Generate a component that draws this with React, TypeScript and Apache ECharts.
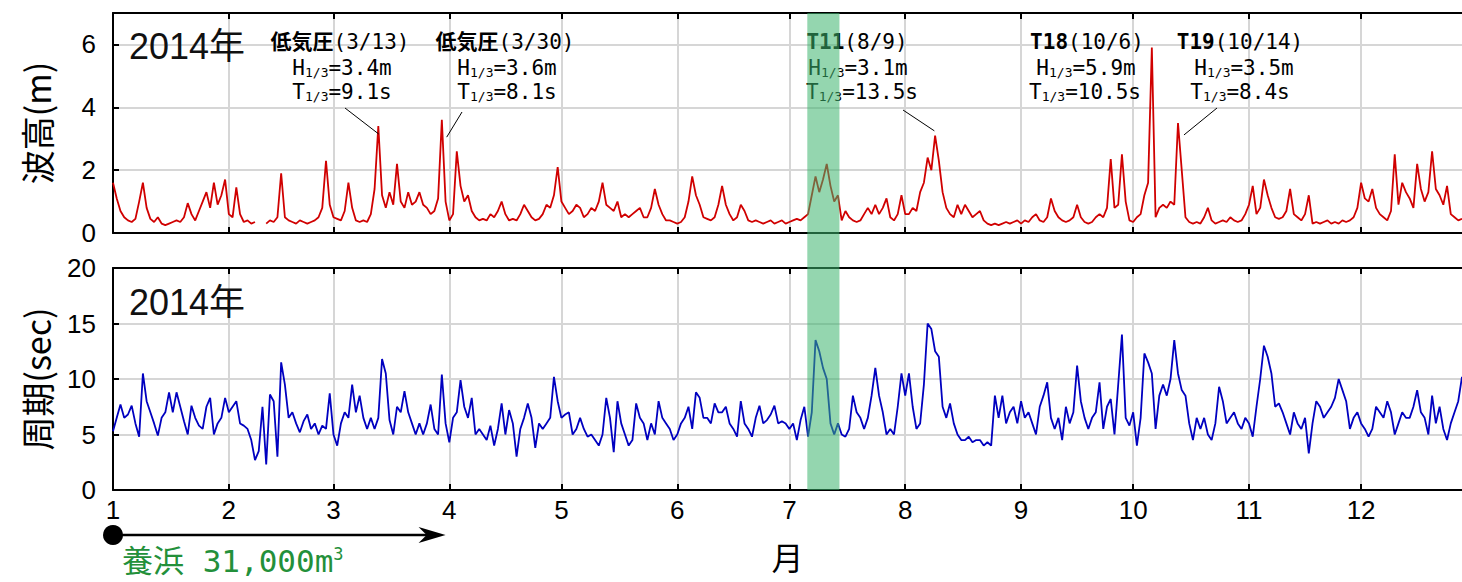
import React, { useEffect, useRef } from 'react';
import * as echarts from 'echarts';

// ---------- data ----------
// day-of-year index (0 = Jan 1, 2014) for the first day of each month
const monthStarts = [0, 31, 59, 90, 120, 151, 181, 212, 243, 273, 304, 334];
const monthLabels = ['1', '2', '3', '4', '5', '6', '7', '8', '9', '10', '11', '12'];

// significant wave height H1/3 (m), one value per day from Jan 1
const waveHeight: (number | null)[] = [
  1.6, 1.1, 0.7, 0.5, 0.4, 0.35, 0.45, 1.0, 1.6, 0.8,
  0.45, 0.35, 0.5, 0.3, 0.25, 0.3, 0.35, 0.4, 0.35, 0.5,
  0.95, 0.6, 0.4, 0.7, 1.0, 1.3, 0.8, 1.6, 0.9, 1.2,
  1.7, 0.6, 0.5, 1.45, 0.6, 0.35, 0.4, 0.3, 0.35, null,
  null, 0.3, 0.4, 0.35, 0.5, 1.9, 0.5, 0.4, 0.35, 0.3,
  0.4, 0.35, 0.3, 0.35, 0.4, 0.5, 0.8, 2.3, 0.9, 0.5,
  0.45, 0.4, 0.7, 1.6, 0.8, 0.4, 0.35, 0.4, 0.35, 0.6,
  1.4, 3.4, 1.2, 0.8, 1.3, 0.9, 2.2, 1.0, 0.8, 1.3,
  0.9, 1.0, 1.3, 0.9, 0.8, 0.6, 0.7, 1.1, 3.6, 1.0,
  0.4, 0.6, 2.6, 1.5, 1.0, 1.2, 0.7, 0.5, 0.4, 0.45,
  0.4, 0.6, 0.5, 0.7, 1.0, 0.6, 0.4, 0.45, 0.4, 0.6,
  0.9, 0.7, 0.5, 0.4, 0.45, 0.6, 0.9, 0.8, 1.2, 2.1,
  1.0, 0.8, 0.6, 0.7, 0.9, 0.8, 0.5, 0.6, 0.8, 0.7,
  1.0, 1.6, 0.9, 0.8, 0.7, 1.0, 0.5, 0.6, 0.5, 0.6,
  0.7, 0.8, 0.5, 0.5, 0.8, 1.4, 0.9, 0.6, 0.4, 0.4,
  0.35, 0.3, 0.35, 0.5, 1.0, 1.8, 1.2, 0.9, 0.5, 0.45,
  0.4, 0.5, 0.9, 1.5, 0.9, 0.6, 0.4, 0.5, 0.9, 0.7,
  0.4, 0.35, 0.4, 0.35, 0.3, 0.35, 0.4, 0.3, 0.35, 0.4,
  0.3, 0.35, 0.4, 0.45, 0.4, 0.5, 0.6, 1.2, 1.8, 1.3,
  1.7, 2.2, 1.5, 1.0, 1.2, 0.4, 0.7, 0.5, 0.4, 0.35,
  0.4, 0.6, 0.8, 0.6, 0.9, 0.6, 0.8, 1.1, 0.5, 0.4,
  0.6, 1.2, 0.6, 0.6, 0.8, 0.7, 1.3, 1.6, 2.4, 2.0,
  3.1, 2.3, 1.3, 0.8, 0.6, 0.5, 0.9, 0.6, 0.9, 0.7,
  0.5, 0.6, 0.7, 0.4, 0.3, 0.25, 0.3, 0.25, 0.3, 0.35,
  0.3, 0.35, 0.4, 0.3, 0.4, 0.35, 0.5, 0.6, 0.4, 0.35,
  0.5, 1.1, 0.7, 0.5, 0.4, 0.35, 0.4, 0.5, 0.9, 0.5,
  0.35, 0.3, 0.35, 0.5, 0.6, 0.5, 0.8, 2.35, 0.8, 0.9,
  2.5, 1.0, 0.4, 0.35, 0.5, 0.6, 1.2, 1.6, 5.9, 0.5,
  0.8, 0.9, 0.8, 1.0, 0.9, 3.5, 2.0, 0.5, 0.35, 0.3,
  0.35, 0.3, 0.5, 0.8, 0.4, 0.3, 0.35, 0.4, 0.35, 0.5,
  0.4, 0.35, 0.4, 0.6, 0.9, 1.5, 0.6, 0.8, 1.7, 1.2,
  0.8, 0.5, 0.45, 0.5, 0.7, 1.4, 0.6, 0.5, 0.4, 0.6,
  1.2, 0.3, 0.35, 0.3, 0.35, 0.4, 0.3, 0.35, 0.3, 0.4,
  0.35, 0.4, 0.5, 0.8, 1.6, 1.1, 1.0, 1.4, 0.8, 0.6,
  0.5, 0.4, 0.7, 2.5, 0.9, 1.6, 1.3, 1.1, 0.8, 2.2,
  1.4, 1.0, 1.3, 2.6, 1.4, 1.2, 0.9, 1.5, 0.6, 0.5,
  0.4, 0.45,
];

// significant wave period T1/3 (sec), one value per day from Jan 1
const wavePeriod: number[] = [
  5.3, 6.5, 7.7, 6.5, 6.8, 7.6, 6.0, 4.8, 10.5, 8.0,
  7.0, 6.0, 4.9, 6.5, 7.0, 8.8, 7.0, 8.8, 7.5, 6.2,
  5.0, 7.6, 6.5, 5.8, 5.5, 7.5, 8.3, 5.0, 6.0, 6.5,
  8.3, 7.0, 7.5, 8.0, 6.0, 5.8, 5.5, 4.5, 2.7, 3.5,
  7.5, 2.3, 8.6, 8.0, 3.0, 11.5, 9.5, 6.5, 7.0, 6.0,
  5.2, 6.2, 6.8, 5.5, 6.0, 5.0, 5.8, 5.5, 8.7, 5.0,
  4.0, 6.0, 7.0, 6.5, 9.5, 7.0, 8.5, 6.5, 5.5, 6.5,
  5.5, 6.5, 11.8, 10.5, 6.3, 5.0, 7.5, 7.0, 8.9, 7.0,
  6.0, 5.0, 6.0, 5.0, 6.0, 7.7, 5.5, 5.0, 10.4, 6.0,
  4.3, 6.5, 7.0, 9.9, 7.5, 6.5, 8.3, 5.0, 5.5, 5.0,
  4.5, 5.8, 4.0, 5.5, 7.8, 5.0, 7.2, 6.0, 3.0, 5.5,
  6.5, 7.8, 6.5, 3.8, 6.0, 5.5, 6.0, 6.5, 10.2, 8.0,
  6.5, 6.8, 7.0, 5.0, 5.5, 6.5, 5.5, 4.8, 5.0, 4.5,
  4.0, 5.0, 8.3, 6.5, 3.4, 8.0, 6.0, 5.0, 4.0, 4.5,
  7.8, 6.5, 6.0, 4.5, 6.0, 5.0, 8.0, 6.5, 6.0, 5.5,
  4.5, 5.0, 6.0, 6.5, 7.5, 5.5, 8.8, 8.3, 6.5, 6.5,
  6.0, 7.8, 7.0, 7.0, 7.5, 6.0, 5.5, 4.8, 8.0, 6.0,
  5.5, 4.8, 6.5, 7.6, 6.0, 6.3, 6.8, 7.6, 6.0, 6.2,
  6.0, 5.5, 6.0, 4.5, 6.3, 7.5, 4.8, 7.0, 13.5, 12.5,
  11.0, 10.0, 6.0, 5.0, 6.0, 5.0, 4.8, 5.5, 8.5, 7.0,
  6.5, 5.5, 6.5, 8.5, 11.0, 8.5, 7.0, 5.0, 5.5, 5.0,
  7.5, 10.5, 8.5, 10.5, 7.5, 5.5, 6.0, 9.5, 15.0, 14.5,
  12.5, 12.0, 7.5, 6.5, 7.8, 6.0, 5.0, 4.5, 4.5, 4.8,
  4.3, 4.5, 4.5, 4.0, 4.3, 4.0, 8.5, 6.5, 8.5, 6.0,
  7.0, 7.5, 6.0, 8.0, 6.5, 7.0, 6.0, 5.0, 7.5, 8.5,
  9.7, 6.5, 5.5, 6.5, 4.5, 7.5, 6.0, 7.0, 11.2, 8.0,
  6.5, 5.5, 6.5, 7.0, 9.7, 5.5, 7.5, 8.2, 5.0, 9.5,
  14.0, 6.5, 5.8, 7.0, 4.0, 6.5, 12.3, 11.5, 10.5, 5.5,
  8.5, 9.5, 8.5, 10.0, 13.5, 10.5, 9.0, 8.5, 6.0, 4.5,
  6.5, 5.5, 6.5, 5.0, 4.5, 6.0, 9.3, 8.0, 6.0, 6.5,
  7.0, 6.0, 5.5, 6.5, 6.0, 4.8, 7.5, 10.0, 13.0, 12.0,
  10.5, 7.5, 7.8, 7.0, 6.0, 5.0, 7.0, 6.0, 5.5, 6.5,
  3.3, 6.0, 8.0, 7.5, 6.5, 7.0, 7.5, 8.3, 10.0, 9.0,
  8.0, 5.5, 6.5, 7.0, 6.0, 5.5, 4.8, 5.5, 7.5, 7.0,
  6.5, 8.0, 7.0, 5.0, 6.0, 7.0, 6.5, 6.5, 7.5, 9.0,
  7.0, 6.5, 5.0, 8.5, 6.0, 7.5, 5.5, 4.5, 6.0, 7.0,
  8.0, 10.2,
];

const lastDay = 361;
const heightTicks = { min: 0, max: 7, interval: 2 };
const periodTicks = { min: 0, max: 20, interval: 5 };
const bandDays = [185.8, 194.4];
const nourishDays = [0, 89];

// storm annotations (text + the peak the leader points to)
const storms = [
  { name: '低気圧', date: '(3/13)', h: '3.4m', t: '9.1s', leader: true, endDay: 71.1, endH: 3.15 },
  { name: '低気圧', date: '(3/30)', h: '3.6m', t: '8.1s', leader: true, endDay: 89.3, endH: 3.05 },
  { name: 'T11', date: '(8/9)', h: '3.1m', t: '13.5s', leader: true, endDay: 219.8, endH: 3.25 },
  { name: 'T18', date: '(10/6)', h: '5.9m', t: '10.5s', leader: false, endDay: 0, endH: 0 },
  { name: 'T19', date: '(10/14)', h: '3.5m', t: '8.4s', leader: true, endDay: 286.6, endH: 3.12 },
];

// ---------- layout / style ----------
const W = 1462;
const H = 582;
const GRID_LEFT = 113;
const MONO = "'DejaVu Sans Mono', 'Noto Sans CJK JP', monospace";
const SANS = "'Liberation Sans', Arial, 'Noto Sans CJK JP', sans-serif";
const JP = "'Noto Sans CJK JP', sans-serif";
const GRID_COLOR = '#d6d6d6';
const stormLayout = [
  { cx: [340, 342, 342], leaderStart: [345, 108] },
  { cx: [505, 507, 507], leaderStart: [462, 112] },
  { cx: [857, 858, 862], leaderStart: [903, 110] },
  { cx: [1087, 1086, 1085], leaderStart: [0, 0] },
  { cx: [1240, 1244, 1240], leaderStart: [1217, 108] },
];
const stormRows = [42, 68, 92];

export default function App() {
  const ref = useRef<HTMLDivElement>(null);

  useEffect(() => {
    if (!ref.current) return;
    const chart = echarts.init(ref.current, null, { renderer: 'svg', width: W, height: H });

    const xBase = (gridIndex: number, position: 'top' | 'bottom') => ({
      type: 'value',
      gridIndex,
      position,
      min: 0,
      max: lastDay,
      axisLine: { show: true, onZero: false, lineStyle: { color: '#000', width: 2 } },
      axisTick: { show: true, inside: true, length: 6, customValues: monthStarts, lineStyle: { color: '#000', width: 2 } },
      axisLabel: { show: false },
      splitLine: { show: false },
    });
    const splitOn = { show: true, lineStyle: { color: GRID_COLOR, width: 2 } };
    const yLabel = { fontSize: 26, color: '#000', fontFamily: SANS, margin: 17 };
    const yName = { fontSize: 34, color: '#000', fontFamily: JP };

    const option: any = {
      animation: false,
      backgroundColor: '#fff',
      textStyle: { fontFamily: SANS },
      grid: [
        { left: GRID_LEFT, right: 0, top: 13, height: 220 },
        { left: GRID_LEFT, right: 0, top: 268, height: 222 },
      ],
      xAxis: [
        { ...xBase(0, 'bottom'), splitLine: splitOn },
        xBase(0, 'top'),
        {
          ...xBase(1, 'bottom'),
          splitLine: splitOn,
          axisLabel: {
            show: true,
            customValues: monthStarts,
            formatter: (v: number) => {
              const i = monthStarts.indexOf(Math.round(v));
              return i >= 0 ? monthLabels[i] : '';
            },
            fontSize: 26,
            color: '#000',
            fontFamily: SANS,
            margin: 7,
          },
          name: '月',
          nameLocation: 'middle',
          nameGap: 50,
          nameTextStyle: { fontSize: 32, color: '#000', fontFamily: JP },
        },
        xBase(1, 'top'),
      ],
      yAxis: [
        {
          type: 'value',
          gridIndex: 0,
          ...heightTicks,
          axisLine: { show: true, lineStyle: { color: '#000', width: 2 } },
          axisTick: { show: true, inside: true, length: 6, lineStyle: { color: '#000', width: 2 } },
          axisLabel: { ...yLabel, showMaxLabel: false },
          splitLine: splitOn,
          name: '波高(m)',
          nameLocation: 'middle',
          nameRotate: 90,
          nameGap: 60,
          nameTextStyle: yName,
        },
        {
          type: 'value',
          gridIndex: 1,
          ...periodTicks,
          axisLine: { show: true, lineStyle: { color: '#000', width: 2 } },
          axisTick: { show: true, inside: true, length: 6, lineStyle: { color: '#000', width: 2 } },
          axisLabel: yLabel,
          splitLine: splitOn,
          name: '周期(sec)',
          nameLocation: 'middle',
          nameRotate: 90,
          nameGap: 60,
          nameTextStyle: yName,
        },
      ],
      series: [
        {
          name: '波高',
          type: 'line',
          xAxisIndex: 0,
          yAxisIndex: 0,
          data: waveHeight.map((v, i) => [i, v]),
          showSymbol: false,
          symbol: 'none',
          connectNulls: false,
          lineStyle: { color: '#d00000', width: 1.8 },
          z: 3,
        },
        {
          name: '周期',
          type: 'line',
          xAxisIndex: 2,
          yAxisIndex: 1,
          data: wavePeriod.map((v, i) => [i, v]),
          showSymbol: false,
          symbol: 'none',
          lineStyle: { color: '#0000c0', width: 1.8 },
          z: 3,
        },
      ],
    };
    chart.setOption(option);

    const p = (grid: number, x: number, y: number) =>
      chart.convertToPixel({ gridIndex: grid } as any, [x, y]) as unknown as number[];

    const rich = {
      b: { fontFamily: MONO, fontSize: 21, fontWeight: 'bold', fill: '#000' },
      n: { fontFamily: MONO, fontSize: 21, fill: '#000' },
      s: { fontFamily: MONO, fontSize: 13, fill: '#000', verticalAlign: 'bottom' },
    };
    const graphics: any[] = [];

    // "2014年" labels
    const yearTop = p(0, 0, heightTicks.max);
    const yearBot = p(1, 0, periodTicks.max);
    graphics.push({
      type: 'text', x: yearTop[0] + 16, y: yearTop[1] + 33, z: 40,
      style: { text: '2014年', fontSize: 36, fontFamily: SANS, fill: '#111', align: 'left', verticalAlign: 'middle' },
    });
    graphics.push({
      type: 'text', x: yearBot[0] + 16, y: yearBot[1] + 34, z: 40,
      style: { text: '2014年', fontSize: 36, fontFamily: SANS, fill: '#111', align: 'left', verticalAlign: 'middle' },
    });

    // storm annotations
    storms.forEach((s, k) => {
      const L = stormLayout[k];
      const lines = [
        `{b|${s.name}}{n|${s.date}}`,
        `{n|H}{s|1/3}{n|=${s.h}}`,
        `{n|T}{s|1/3}{n|=${s.t}}`,
      ];
      lines.forEach((txt, r) => {
        graphics.push({
          type: 'text', x: L.cx[r], y: stormRows[r], z: 40,
          style: { text: txt, rich, align: 'center', verticalAlign: 'middle', fontFamily: MONO, fontSize: 21, fill: '#000' },
        });
      });
      if (s.leader) {
        const end = p(0, s.endDay, s.endH);
        graphics.push({
          type: 'line', z: 40,
          shape: { x1: L.leaderStart[0], y1: L.leaderStart[1], x2: end[0], y2: end[1] },
          style: { stroke: '#000', lineWidth: 1 },
        });
      }
    });

    // green highlighted period (over both panels)
    const bTop = p(0, bandDays[0], heightTicks.max);
    const bEnd = p(0, bandDays[1], heightTicks.max);
    const bBot = p(1, bandDays[0], periodTicks.min);
    graphics.push({
      type: 'rect', z: 100,
      shape: { x: bTop[0], y: bTop[1], width: bEnd[0] - bTop[0], height: bBot[1] - bTop[1] },
      style: { fill: 'rgba(60,180,110,0.55)' },
    });

    // nourishment arrow
    const a0 = p(1, nourishDays[0], periodTicks.min);
    const a1 = p(1, nourishDays[1], periodTicks.min);
    const ay = a0[1] + 45;
    graphics.push({ type: 'circle', z: 40, shape: { cx: a0[0], cy: ay, r: 10 }, style: { fill: '#000' } });
    graphics.push({
      type: 'line', z: 40,
      shape: { x1: a0[0], y1: ay, x2: a1[0] - 12, y2: ay },
      style: { stroke: '#000', lineWidth: 2.5 },
    });
    graphics.push({
      type: 'polygon', z: 40,
      shape: { points: [[a1[0], ay], [a1[0] - 27, ay - 8], [a1[0] - 19, ay], [a1[0] - 27, ay + 8]] },
      style: { fill: '#000' },
    });
    graphics.push({
      type: 'text', x: a0[0] + 9, y: ay + 26, z: 40,
      style: {
        text: '{n|養浜 31,000m}{u|3}',
        align: 'left',
        verticalAlign: 'middle',
        rich: {
          n: { fontFamily: MONO, fontSize: 31, fill: '#23903a' },
          u: { fontFamily: MONO, fontSize: 17, fill: '#23903a', verticalAlign: 'top' },
        },
      },
    });

    chart.setOption({ graphic: graphics });

    return () => chart.dispose();
  }, []);

  return (
    <div
      ref={ref}
      style={{ position: 'absolute', left: 0, top: 0, width: W, height: H, background: '#fff' }}
    />
  );
}
